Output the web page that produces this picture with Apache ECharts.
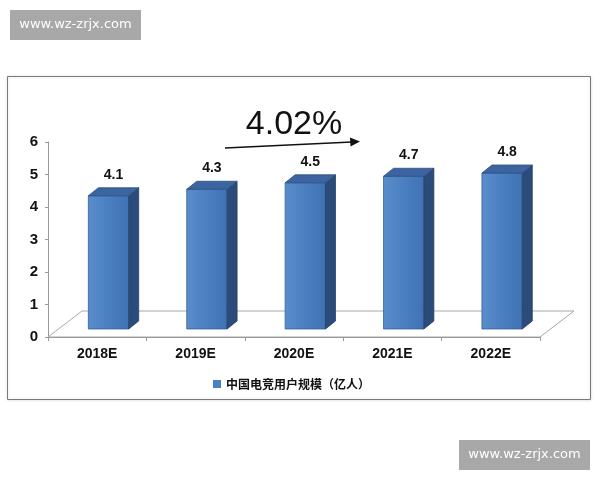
<!DOCTYPE html>
<html>
<head>
<meta charset="utf-8">
<script src="https://cdn.jsdelivr.net/npm/echarts@6/dist/echarts.min.js"></script>
<style>
  html, body { margin: 0; padding: 0; background: #fff; }
  #main { width: 600px; height: 480px; }
</style>
</head>
<body>
<div id="main"></div>
<script>
// 数据
var years = ['2018E', '2019E', '2020E', '2021E', '2022E'];
var users = [4.1, 4.3, 4.5, 4.7, 4.8];
var yTicks = [0, 1, 2, 3, 4, 5, 6];
var seriesName = '中国电竞用户规模（亿人）';
var growth = '4.02%';

var chart = echarts.init(document.getElementById('main'));

// 立体柱子
function renderBar(params, api) {
  var i = api.value(0);
  var v = api.value(1);
  var p = api.coord([i, v]);
  var p0 = api.coord([i, 0]);
  var band = api.size([1, 0])[0];
  var w = band * 0.41;
  var sx = p[0] - band * 0.09;
  var lift = 8, dx = 10, dy = 8;
  var top = p[1] - lift;
  var bottom = p0[1] - lift;
  return {
    type: 'group',
    children: [
      {
        type: 'rect',
        shape: { x: sx, y: top, width: w, height: bottom - top },
        style: {
          fill: new echarts.graphic.LinearGradient(0, 0, 1, 0, [
            { offset: 0, color: '#5a8dcb' },
            { offset: 0.5, color: '#4a7fc1' },
            { offset: 1, color: '#3f72b3' }
          ]),
          stroke: '#34609a', lineWidth: 0.8
        }
      },
      {
        type: 'polygon',
        shape: { points: [[sx + w, top], [sx + w + dx, top - dy], [sx + w + dx, bottom - dy], [sx + w, bottom]] },
        style: { fill: '#2b4c7a', stroke: '#24406a', lineWidth: 0.8 }
      },
      {
        type: 'polygon',
        shape: { points: [[sx, top], [sx + dx, top - dy], [sx + w + dx, top - dy], [sx + w, top]] },
        style: { fill: '#3b64a0', stroke: '#2c4f80', lineWidth: 0.8 }
      },
      {
        type: 'text',
        style: {
          x: sx + w / 2 + dx / 2, y: top - dy - 6,
          text: String(v),
          align: 'center', verticalAlign: 'bottom',
          font: 'bold 14px Arial, "Liberation Sans"',
          fill: '#111', stroke: '#fff', lineWidth: 2
        }
      }
    ]
  };
}

// 底面
function renderFloor(params, api) {
  var band = api.size([1, 0])[0];
  var a = api.coord([0, 0]);
  var b = api.coord([years.length - 1, 0]);
  var x1 = a[0] - band / 2, x2 = b[0] + band / 2, y = a[1];
  var ddx = 34, ddy = 26;
  return {
    type: 'polygon',
    shape: { points: [[x1, y], [x2, y], [x2 + ddx, y - ddy], [x1 + ddx, y - ddy]] },
    style: { fill: '#fff', stroke: '#a8a8a8', lineWidth: 1 }
  };
}

var option = {
  backgroundColor: '#fff',
  animation: false,
  grid: { left: 48, right: 60, top: 142, bottom: 143 },
  legend: {
    data: [seriesName],
    left: 208, top: 373,
    icon: 'rect', itemWidth: 8, itemHeight: 8, itemGap: 4,
    textStyle: { fontFamily: '"Noto Sans CJK SC"', fontWeight: 'bold', fontSize: 12, color: '#111' }
  },
  xAxis: {
    type: 'category',
    data: years,
    axisLine: { show: true, lineStyle: { color: '#999' } },
    axisTick: { show: true, length: 4, lineStyle: { color: '#999' } },
    axisLabel: {
      margin: 10, color: '#111', fontSize: 14, fontWeight: 'bold',
      fontFamily: 'Arial, "Liberation Sans"'
    },
    z: 3
  },
  yAxis: {
    type: 'value',
    min: yTicks[0], max: yTicks[yTicks.length - 1], interval: 1,
    axisLine: { show: true, lineStyle: { color: '#999' } },
    axisTick: { show: true, length: 3, lineStyle: { color: '#999' } },
    splitLine: { show: false },
    axisLabel: {
      margin: 10, color: '#111', fontSize: 15, fontWeight: 'bold',
      fontFamily: 'Arial, "Liberation Sans"'
    }
  },
  series: [
    {
      name: 'floor',
      type: 'custom',
      renderItem: renderFloor,
      data: [[0, 0]],
      silent: true,
      z: 1
    },
    {
      name: seriesName,
      type: 'custom',
      renderItem: renderBar,
      itemStyle: { color: '#4a7fc1' },
      encode: { x: 0, y: 1 },
      data: users.map(function (v, i) { return [i, v]; }),
      z: 5
    }
  ],
  graphic: [
    // 外框
    {
      type: 'rect', z: -10,
      shape: { x: 7.5, y: 76.5, width: 583, height: 323 },
      style: { fill: '#fff', stroke: '#7a7a7a', lineWidth: 1, shadowColor: 'rgba(0,0,0,0.15)', shadowBlur: 3 }
    },
    // 增长率
    {
      type: 'text', z: 10,
      style: {
        x: 294, y: 125, text: growth,
        align: 'center', verticalAlign: 'middle',
        font: '34px Arial, "Liberation Sans"', fill: '#111'
      }
    },
    {
      type: 'line', z: 10,
      shape: { x1: 225, y1: 148, x2: 352, y2: 142 },
      style: { stroke: '#111', lineWidth: 1.6 }
    },
    {
      type: 'polygon', z: 10,
      shape: { points: [[360, 141.6], [350, 137.5], [350.5, 146.5]] },
      style: { fill: '#111' }
    },
    // 水印
    {
      type: 'rect', z: 20,
      shape: { x: 10, y: 10, width: 131, height: 30 },
      style: { fill: '#a8a8a8' }
    },
    {
      type: 'text', z: 21,
      style: {
        x: 75.5, y: 25, text: 'www.wz-zrjx.com', align: 'center', verticalAlign: 'middle',
        font: '13px "DejaVu Sans"', fill: '#fff'
      }
    },
    {
      type: 'rect', z: 20,
      shape: { x: 459, y: 440, width: 131, height: 30 },
      style: { fill: '#a8a8a8' }
    },
    {
      type: 'text', z: 21,
      style: {
        x: 524.5, y: 455, text: 'www.wz-zrjx.com', align: 'center', verticalAlign: 'middle',
        font: '13px "DejaVu Sans"', fill: '#fff'
      }
    }
  ]
};

chart.setOption(option);
</script>
</body>
</html>
